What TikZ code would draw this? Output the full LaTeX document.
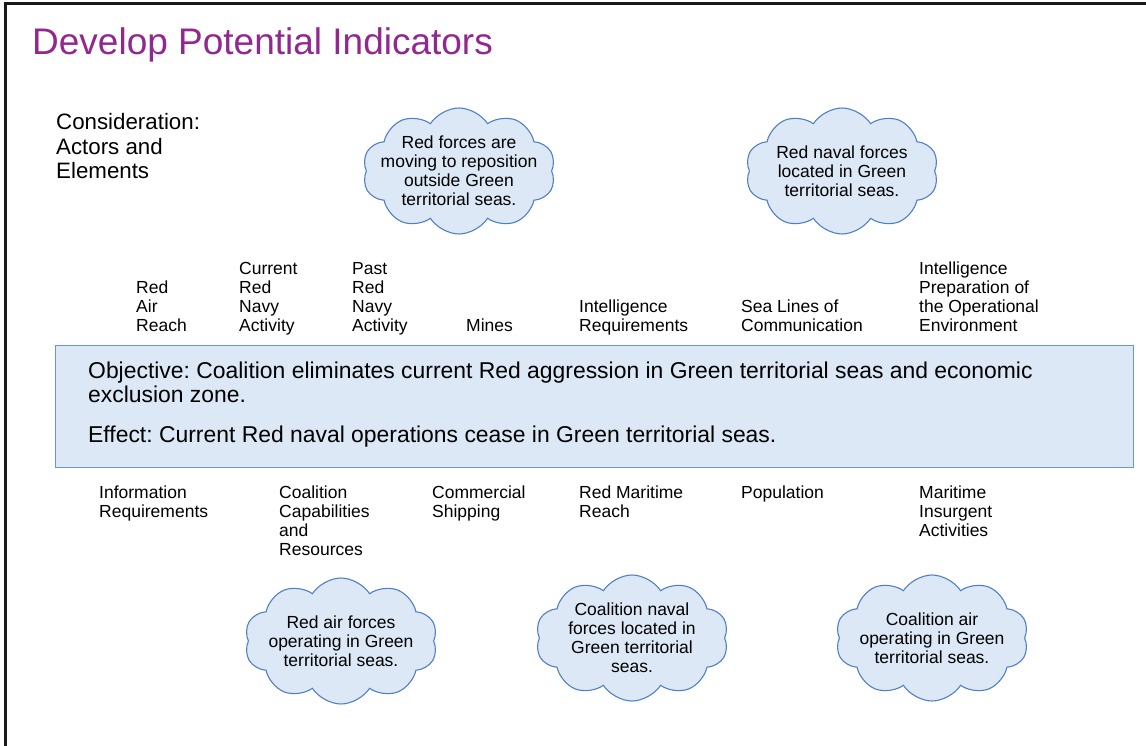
\documentclass[tikz,border=0pt]{standalone}
\usepackage{fontspec}
\setmainfont{Liberation Sans}
\usetikzlibrary{shapes.symbols}
\definecolor{titlepurple}{RGB}{146,39,143}
\definecolor{boxfill}{RGB}{220,232,246}
\definecolor{boxdraw}{RGB}{110,150,205}
\definecolor{clouddraw}{RGB}{80,128,195}
\definecolor{framegray}{RGB}{25,25,25}
\newcommand{\lbltop}[1]{\begin{tabular}[b]{@{}l@{}}#1\end{tabular}}
\newcommand{\lblbot}[1]{\begin{tabular}[t]{@{}l@{}}#1\end{tabular}}
\frenchspacing
\begin{document}
\frenchspacing
\begin{tikzpicture}[x=1pt,y=-1pt,
  lbl/.style={inner sep=0, anchor=base west, font=\fontsize{17.5}{19}\selectfont},
  bigtext/.style={inner sep=0, anchor=base west, font=\fontsize{22.3}{24.5}\selectfont},
  objtextstyle/.style={inner sep=0, anchor=base west, font=\fontsize{22.9}{24.5}\selectfont},
  cloudnode/.style={cloud, cloud puffs=10, cloud puff arc=115, cloud ignores aspect,
    minimum width=193pt, minimum height=126pt, fill=boxfill, draw=clouddraw,
    line width=1.1pt, align=center, inner xsep=-16pt, inner ysep=-4pt,
    font=\fontsize{17.5}{19}\selectfont},
  objbox/.style={rectangle, fill=boxfill, draw=boxdraw, line width=1.2pt, inner sep=0,
    anchor=north west, minimum width=1078pt, minimum height=122pt}]
\useasboundingbox (0,0) rectangle (1146,746);
% frame
\coordinate (fbl) at (5,746);
\coordinate (ftl) at (5,4);
\coordinate (ftr) at (1146,4);
\draw[framegray, line width=3pt] (fbl) -- (ftl) -- (ftr);
% title
\node[inner sep=0, anchor=base west, text=titlepurple, font=\fontsize{37}{40}\selectfont] (title) at (32,55) {Develop Potential Indicators};
% consideration
\node[bigtext] (consid) at (56,130) {\lblbot{Consideration:\\Actors and\\Elements}};
% clouds top
\node[cloudnode] (c1) at (459,171) {Red forces are\\moving to reposition\\outside Green\\territorial seas.};
\node[cloudnode] (c2) at (842,171) {Red naval forces\\located in Green\\territorial seas.};
% top labels
\node[lbl] (t1) at (136,331) {\lbltop{Red\\Air\\Reach}};
\node[lbl] (t2) at (239,331) {\lbltop{Current\\Red\\Navy\\Activity}};
\node[lbl] (t3) at (352,331) {\lbltop{Past\\Red\\Navy\\Activity}};
\node[lbl] (t4) at (466,331) {\lbltop{Mines}};
\node[lbl] (t5) at (579,331) {\lbltop{Intelligence\\Requirements}};
\node[lbl] (t6) at (741,331) {\lbltop{Sea Lines of\\Communication}};
\node[lbl] (t7) at (919,331) {\lbltop{Intelligence\\Preparation of\\the Operational\\Environment}};
% objective box
\node[objbox] (obj) at (55,345) {};
\node[objtextstyle] (objtext) at (88,378) {\lblbot{Objective: Coalition eliminates current Red aggression in Green territorial seas and economic\\exclusion zone.}};
\node[objtextstyle] (efftext) at (88,442) {Effect: Current Red naval operations cease in Green territorial seas.};
% bottom labels
\node[lbl] (b1) at (99,498) {\lblbot{Information\\Requirements}};
\node[lbl] (b2) at (279,498) {\lblbot{Coalition\\Capabilities\\and\\Resources}};
\node[lbl] (b3) at (432,498) {\lblbot{Commercial\\Shipping}};
\node[lbl] (b4) at (579,498) {\lblbot{Red Maritime\\Reach}};
\node[lbl] (b5) at (741,498) {\lblbot{Population}};
\node[lbl] (b6) at (919,498) {\lblbot{Maritime\\Insurgent\\Activities}};
% clouds bottom
\node[cloudnode] (c3) at (341,641) {Red air forces\\operating in Green\\territorial seas.};
\node[cloudnode] (c4) at (632,638) {Coalition naval\\forces located in\\Green territorial\\seas.};
\node[cloudnode] (c5) at (932,638) {Coalition air\\operating in Green\\territorial seas.};
\end{tikzpicture}
\end{document}
